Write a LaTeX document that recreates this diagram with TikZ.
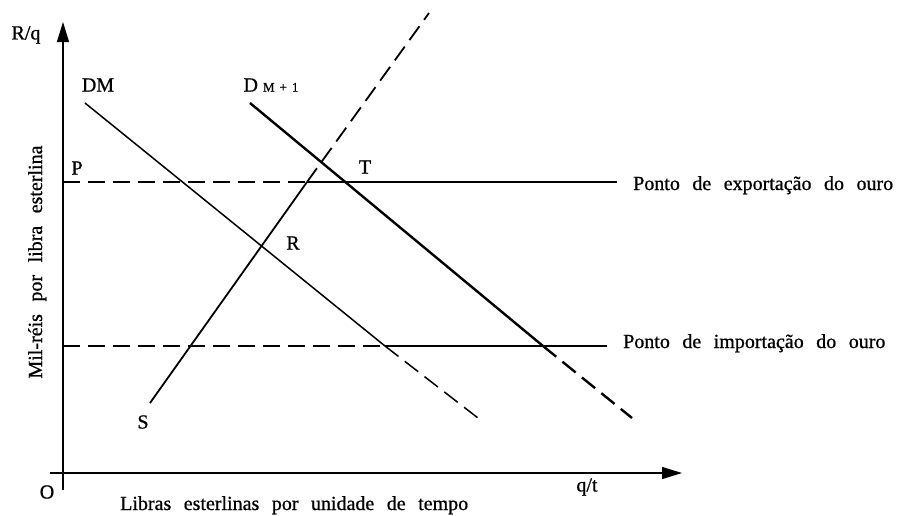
\documentclass[tikz,border=0pt]{standalone}
\usepackage{fontspec}
\setmainfont{Liberation Serif}[FakeBold=0.8]
\usetikzlibrary{arrows.meta}
\newcommand{\mylblfont}{\fontsize{20}{22}\selectfont\spaceskip 12.5pt plus 2pt minus 1pt\relax}
\newcommand{\mysubfont}{\fontsize{13}{13}\selectfont\spaceskip 5pt\relax}
\begin{document}
\begin{tikzpicture}[x=1pt,y=-1pt,
  lbl/.style={font=\mylblfont, inner sep=0pt},
  thinln/.style={line width=1.5pt},
  medln/.style={line width=1.8pt},
  heavyln/.style={line width=2.4pt},
  horizln/.style={line width=2.6pt},
  dsh/.style={dash pattern=on 17pt off 8pt},
  axisln/.style={line width=1.4pt, -{Triangle[length=20pt,width=12pt]}}]
\useasboundingbox (0,0) rectangle (898,515);

% axes
\coordinate (ytop) at (63,22);
\coordinate (ybot) at (63,490);
\coordinate (xleft) at (50,473);
\coordinate (xright) at (682,473);
\draw[axisln] (ybot) -- (ytop);
\draw[axisln] (xleft) -- (xright);

% gold export point line
\coordinate (E0) at (63,182);
\coordinate (E1) at (307,182);
\coordinate (E2) at (617,182);
\draw[horizln,dsh] (E0) -- (E1);
\draw[heavyln] (E1) -- (E2);

% gold import point line
\coordinate (I0) at (63,346);
\coordinate (I1) at (385,346);
\coordinate (I2) at (607,346);
\draw[horizln,dsh] (I0) -- (I1);
\draw[horizln] (I1) -- (I2);

% DM
\coordinate (D1) at (85,103);
\coordinate (D2) at (478,418);
\draw[thinln] (D1) -- (I1);
\draw[thinln,dsh] (I1) -- (D2);

% DM+1
\coordinate (F1) at (250,103);
\coordinate (F2) at (543,346);
\coordinate (F3) at (632,418);
\draw[heavyln] (F1) -- (F2);
\draw[heavyln,dsh] (F2) -- (F3);

% S
\coordinate (S1) at (150,403);
\coordinate (S2) at (429,13);
\draw[medln] (S1) -- (E1);
\draw[medln,dsh] (E1) -- (S2);

% labels
\node[lbl] (Rq) at (26,35) {R/q};
\node[lbl] (DM) at (98,85) {DM};
\node[lbl] (DM1) at (271,85) {D{\mysubfont\ M + 1}};
\node[lbl] (P) at (77,168) {P};
\node[lbl] (T) at (365,167) {T};
\node[lbl] (R) at (293,243) {R};
\node[lbl] (S) at (143,422) {S};
\node[lbl] (O) at (47,492) {O};
\node[lbl] (qt) at (587,487) {q/t};
\node[lbl,anchor=base west] (exp) at (633,190) {Ponto de exportação do ouro};
\node[lbl,anchor=base west] (imp) at (623,348) {Ponto de importação do ouro};
\node[lbl,anchor=base west] (xl) at (120,510) {Libras esterlinas por unidade de tempo};
\node[lbl,rotate=90,anchor=base] (yl) at (42,262) {Mil-réis por libra esterlina};
\end{tikzpicture}
\end{document}
